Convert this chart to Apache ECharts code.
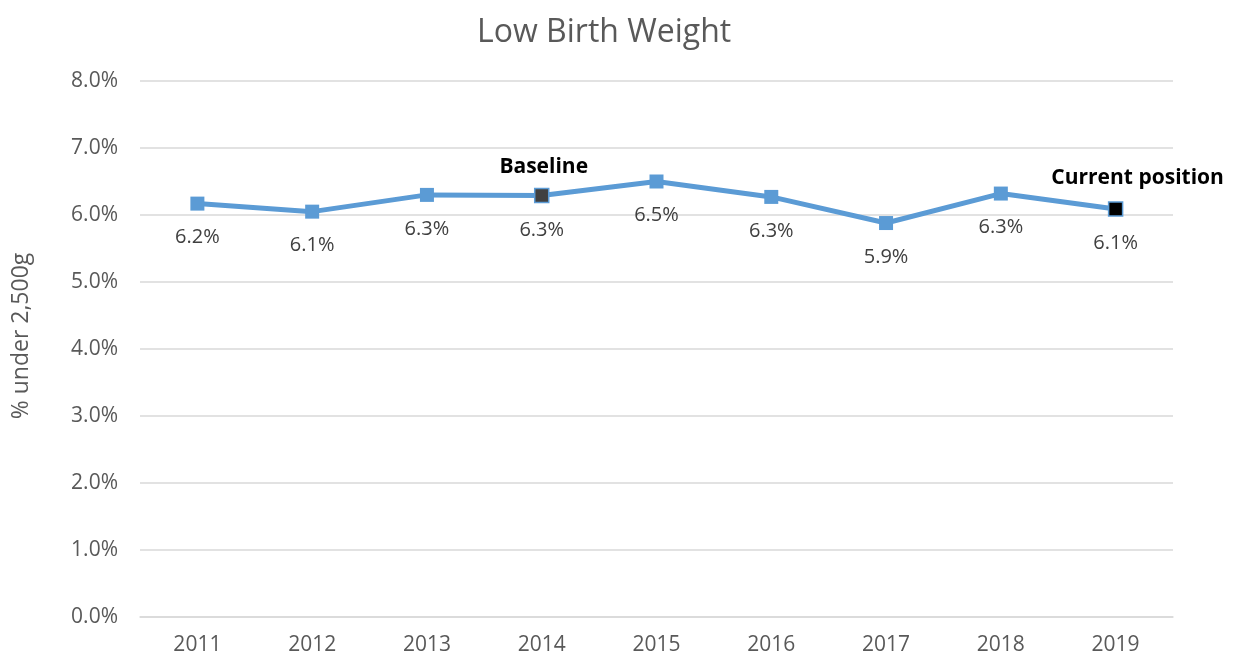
<!DOCTYPE html>
<html>
<head>
<meta charset="utf-8">
<script src="https://cdn.jsdelivr.net/npm/echarts@6/dist/echarts.min.js"></script>
<style>
  html, body { margin: 0; padding: 0; background: #fff; }
  #chart { width: 1233px; height: 657px; }
</style>
</head>
<body>
<div id="chart"></div>
<script>
const years = ['2011', '2012', '2013', '2014', '2015', '2016', '2017', '2018', '2019'];
const lowBirthWeight = [6.17, 6.05, 6.30, 6.29, 6.50, 6.27, 5.88, 6.32, 6.09];
const shownLabels = ['6.2%', '6.1%', '6.3%', '6.3%', '6.5%', '6.3%', '5.9%', '6.3%', '6.1%'];
const baselineIndex = 3;
const currentIndex = 8;

const chart = echarts.init(document.getElementById('chart'));
const font = '"Open Sans", "Liberation Sans", sans-serif';
const blue = '#5b9bd5';

const points = lowBirthWeight.map(function (v, i) {
  const item = { value: v };
  if (i === baselineIndex) item.itemStyle = { color: '#404040', borderColor: blue, borderWidth: 1.5 };
  if (i === currentIndex) item.itemStyle = { color: '#000', borderColor: blue, borderWidth: 1.5 };
  return item;
});

const option = {
  backgroundColor: '#ffffff',
  textStyle: { fontFamily: font },
  title: {
    text: 'Low Birth Weight',
    left: 472,
    top: 12,
    textStyle: { color: '#595959', fontSize: 32, fontWeight: 'normal', fontFamily: font }
  },
  grid: { left: 140, right: 60, top: 81, bottom: 40, containLabel: false },
  xAxis: {
    type: 'category',
    data: years,
    boundaryGap: true,
    axisLine: { show: true, lineStyle: { color: '#d9d9d9', width: 1.5 } },
    axisTick: { show: false },
    axisLabel: { color: '#595959', fontSize: 21, margin: 18, fontFamily: font }
  },
  yAxis: {
    type: 'value',
    min: 0,
    max: 8,
    interval: 1,
    name: '% under 2,500g',
    nameLocation: 'middle',
    nameGap: 107,
    nameTextStyle: { color: '#595959', fontSize: 23, fontFamily: font, padding: [0, 0, 0, 26] },
    axisLine: { show: false },
    axisTick: { show: false },
    splitLine: { lineStyle: { color: '#d9d9d9', width: 1.5 } },
    axisLabel: {
      color: '#595959', fontSize: 21, margin: 22, fontFamily: font,
      formatter: function (v) { return v.toFixed(1) + '%'; }
    }
  },
  series: [{
    type: 'line',
    data: points,
    symbol: 'rect',
    symbolSize: 14,
    lineStyle: { color: blue, width: 5 },
    itemStyle: { color: blue },
    label: {
      show: true,
      position: 'bottom',
      distance: 17,
      color: '#404040',
      fontSize: 20,
      fontFamily: font,
      formatter: function (p) { return shownLabels[p.dataIndex]; }
    },
    markPoint: {
      symbol: 'circle',
      symbolSize: 0,
      silent: true,
      label: { show: true, color: '#000', fontWeight: 'bold', fontSize: 21, fontFamily: font, position: 'inside' },
      data: [
        { coord: [years[baselineIndex], lowBirthWeight[baselineIndex]], label: { formatter: 'Baseline', offset: [2, -29] } },
        { coord: [years[currentIndex], lowBirthWeight[currentIndex]], label: { formatter: 'Current position', offset: [22, -31] } }
      ]
    }
  }]
};

chart.setOption(option);
</script>
</body>
</html>
